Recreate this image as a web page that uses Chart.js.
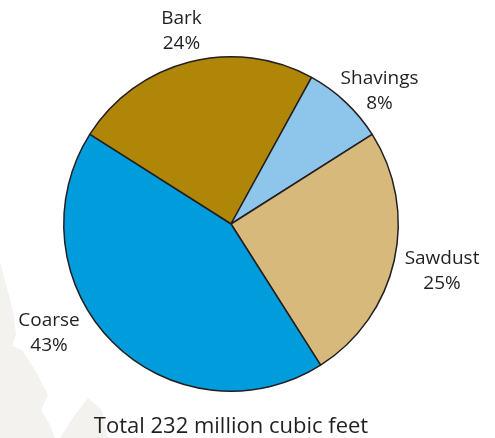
<!DOCTYPE html>
<html>
<head>
<meta charset="utf-8">
<script src="https://cdn.jsdelivr.net/npm/chart.js@4/dist/chart.umd.min.js"></script>
<style>
  html, body { margin: 0; padding: 0; background: #ffffff; }
  #wrap { width: 495px; height: 438px; }
</style>
</head>
<body>
<div id="wrap"><canvas id="chart" width="495" height="438"></canvas></div>
<script>
const categories = ["Bark", "Shavings", "Sawdust", "Coarse"];
const shares = [24, 8, 25, 43];
const sliceColors = ["#b08608", "#8ec5ea", "#d7b97b", "#009cdc"];
const totalLabel = "Total 232 million cubic feet";

// where each outside label sits: extra angle (deg) and distance beyond the rim (px)
const labelNudge = [
  { angle: 0, gap: 32 },
  { angle: 5, gap: 32 },
  { angle: 0, gap: 49 },
  { angle: 14, gap: 45 },
];

const textColor = "#231f20";
const fontFamily = "'Open Sans', 'DejaVu Sans', sans-serif";

function drawBackdrop(ctx) {
  ctx.save();
  ctx.fillStyle = "#f3f2ee";
  ctx.beginPath();
  ctx.moveTo(0, 262);
  ctx.lineTo(6, 285);
  ctx.lineTo(13, 310);
  ctx.lineTo(16, 335);
  ctx.lineTo(12, 346);
  ctx.lineTo(22, 350);
  ctx.lineTo(35, 370);
  ctx.lineTo(48, 395);
  ctx.lineTo(41, 410);
  ctx.lineTo(50, 425);
  ctx.lineTo(55, 438);
  ctx.lineTo(0, 438);
  ctx.closePath();
  ctx.fill();
  ctx.beginPath();
  ctx.moveTo(88, 398);
  ctx.lineTo(102, 410);
  ctx.lineTo(108, 438);
  ctx.lineTo(60, 438);
  ctx.lineTo(74, 416);
  ctx.closePath();
  ctx.fill();
  ctx.restore();
}

const sliceLabels = {
  id: "sliceLabels",
  beforeDraw(chart) {
    drawBackdrop(chart.ctx);
  },
  afterDatasetsDraw(chart) {
    const ctx = chart.ctx;
    const arcs = chart.getDatasetMeta(0).data;
    ctx.save();
    ctx.fillStyle = textColor;
    ctx.textAlign = "center";
    ctx.textBaseline = "middle";
    ctx.font = `19px ${fontFamily}`;
    arcs.forEach((arc, i) => {
      const nudge = labelNudge[i];
      const mid = (arc.startAngle + arc.endAngle) / 2 + (nudge.angle * Math.PI) / 180;
      const dist = arc.outerRadius + nudge.gap;
      const x = arc.x + Math.cos(mid) * dist;
      const y = arc.y + Math.sin(mid) * dist;
      ctx.fillText(categories[i], x, y - 12.5);
      ctx.fillText(`${shares[i]}%`, x, y + 12.5);
    });
    const center = arcs[0];
    ctx.font = `22px ${fontFamily}`;
    ctx.textBaseline = "alphabetic";
    ctx.fillText(totalLabel, center.x, 433);
    ctx.restore();
  },
};

new Chart(document.getElementById("chart"), {
  type: "pie",
  data: {
    labels: categories,
    datasets: [
      {
        data: shares,
        backgroundColor: sliceColors,
        borderColor: "#231f20",
        borderWidth: 1.5,
      },
    ],
  },
  options: {
    responsive: false,
    animation: false,
    devicePixelRatio: 1,
    rotation: -57.6,
    layout: {
      padding: { left: 63, right: 96, top: 56, bottom: 46 },
    },
    plugins: {
      legend: { display: false },
      tooltip: { enabled: false },
    },
  },
  plugins: [sliceLabels],
});
</script>
</body>
</html>
